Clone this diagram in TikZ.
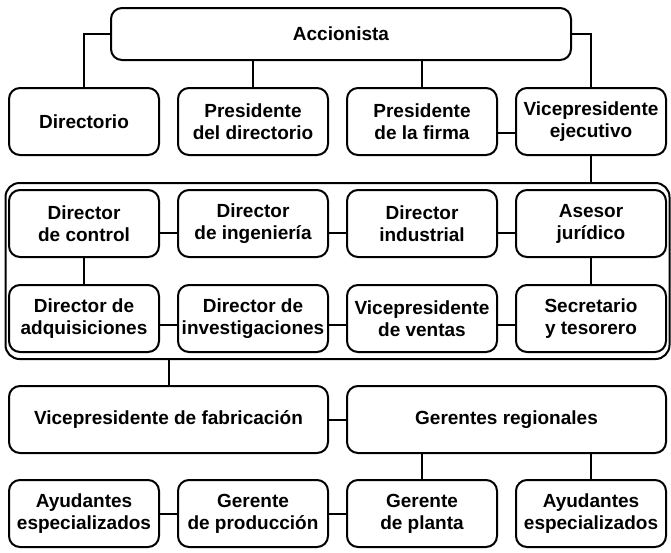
\documentclass[tikz,border=0pt]{standalone}
\usepackage{fontspec}
\setmainfont{Liberation Sans}
\usetikzlibrary{positioning, fit}

\begin{document}
\begin{tikzpicture}[
    x=1pt, y=-1pt,
    node distance=17pt,
    every node/.style={draw, line width=2pt, rounded corners=11pt, rectangle, font=\bfseries\fontsize{19}{22}\selectfont, minimum width=150pt, minimum height=67pt, align=center, inner sep=2pt},
    wide/.style={minimum width=319pt},
    link/.style={line width=2pt}
]
\useasboundingbox (0,0) rectangle (671,552);
\node (acc) [minimum width=460pt, minimum height=52pt] at (341,34) {Accionista};
\node (dir) at (84,121.5) {Directorio};
\node (pd) [right=of dir] {Presidente\\del directorio};
\node (pf) [right=of pd] {Presidente\\de la firma};
\node (ve) [right=of pf] {Vicepresidente\\ejecutivo};
\node (dc) [below=33pt of dir] {Director\\de control};
\node (di) [right=of dc] {Director\\de ingeniería};
\node (dind) [right=of di] {Director\\industrial};
\node (aj) [right=of dind] {Asesor\\jurídico};
\node (da) [below=26pt of dc] {Director de\\adquisiciones};
\node (dinv) [right=of da] {Director de\\investigaciones};
\node (vv) [right=of dinv] {Vicepresidente\\de ventas};
\node (st) [right=of vv] {Secretario\\y tesorero};
\node (grp) [fit=(dc)(st), inner xsep=2.5pt, inner ysep=6pt, rounded corners=14pt] {};
\node (vf) [wide, below right=32pt and 0pt of da.south west] {Vicepresidente de fabricación};
\node (gr) [wide, right=of vf] {Gerentes regionales};
\node (ae1) [below right=25pt and 0pt of vf.south west] {Ayudantes\\especializados};
\node (gp) [right=of ae1] {Gerente\\de producción};
\node (gpl) [right=of gp] {Gerente\\de planta};
\node (ae2) [right=of gpl] {Ayudantes\\especializados};
\draw[link] (acc.west) -| (dir.north);
\draw[link] (pd.north) -- (pd.north |- acc.south);
\draw[link] (pf.north) -- (pf.north |- acc.south);
\draw[link] (acc.east) -| (ve.north);
\draw[link] ([yshift=-11pt]pf.east) -- ([yshift=-11pt]ve.west);
\draw[link] (ve.south) -- (ve.south |- grp.north);
\draw[link] ([yshift=-9pt]dc.east) -- ([yshift=-9pt]di.west);
\draw[link] ([yshift=-9pt]di.east) -- ([yshift=-9pt]dind.west);
\draw[link] ([yshift=-9pt]dind.east) -- ([yshift=-9pt]aj.west);
\draw[link] (dc.south) -- (da.north);
\draw[link] (aj.south) -- (st.north);
\draw[link] ([yshift=-6pt]da.east) -- ([yshift=-6pt]dinv.west);
\draw[link] ([yshift=-6pt]dinv.east) -- ([yshift=-6pt]vv.west);
\draw[link] ([yshift=-6pt]vv.east) -- ([yshift=-6pt]st.west);
\draw[link] (vf.north) -- (vf.north |- grp.south);
\draw[link] (vf.east) -- (gr.west);
\draw[link] (gpl.north) -- (gpl.north |- gr.south);
\draw[link] (ae2.north) -- (ae2.north |- gr.south);
\draw[link] (ae1.east) -- (gp.west);
\draw[link] (gp.east) -- (gpl.west);
\end{tikzpicture}
\end{document}
